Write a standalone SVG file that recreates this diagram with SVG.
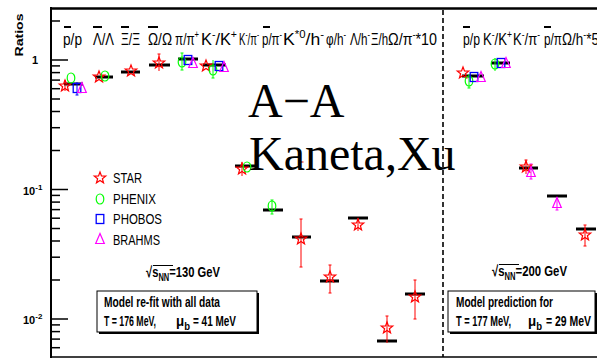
<svg xmlns="http://www.w3.org/2000/svg" width="597" height="358" viewBox="0 0 597 358">
<style>
.lab{font-family:"Liberation Sans",Arial,sans-serif;font-size:17px;fill:#000}
.sup{font-size:11px}
.ax{font-family:"Liberation Sans",Arial,sans-serif;font-size:11px;font-weight:bold;fill:#000}
.axs{font-size:8px}
.leg{font-family:"Liberation Sans",Arial,sans-serif;font-size:15px;fill:#000}
.bt{font-family:"Liberation Sans",Arial,sans-serif;font-size:14px;font-weight:bold;fill:#000}
.bs{font-family:"Liberation Sans",Arial,sans-serif;font-size:15px;font-weight:bold;fill:#000}
.sub{font-size:10px}
.big{font-family:"Liberation Serif","Times New Roman",serif;font-size:48px;fill:#000}
.bar{stroke:#000;stroke-width:3}
.tick{stroke:#000;stroke-width:1.5}
.er{stroke:#f00;stroke-width:1;fill:none}
.eg{stroke:#0f0;stroke-width:1;fill:none}
.eb{stroke:#00f;stroke-width:1;fill:none}
.em{stroke:#f0f;stroke-width:1;fill:none}
.ol{stroke:#000;stroke-width:2}
</style>
<defs>
<path id="star" d="M0,-6 L1.47,-2.02 L5.71,-1.85 L2.38,0.77 L3.53,4.85 L0,2.5 L-3.53,4.85 L-2.38,0.77 L-5.71,-1.85 L-1.47,-2.02 Z" fill="none" stroke="#f00" stroke-width="1.2"/>
<ellipse id="circ" rx="3.8" ry="5" fill="none" stroke="#0f0" stroke-width="1.2"/>
<rect id="sq" x="-3.8" y="-4.5" width="7.6" height="9" fill="none" stroke="#00f" stroke-width="1.3"/>
<path id="tri" d="M0,-5.5 L4.3,4.5 L-4.3,4.5 Z" fill="none" stroke="#f0f" stroke-width="1.2"/>
</defs>
<rect width="597" height="358" fill="#fff"/>

<g id="frame">
<line x1="51" y1="7" x2="51" y2="358" stroke="#000" stroke-width="2"/>
<line x1="50" y1="8.5" x2="597" y2="8.5" stroke="#000" stroke-width="2.5"/>
<line x1="50" y1="357" x2="597" y2="357" stroke="#000" stroke-width="1.5"/>
<line x1="443" y1="10" x2="443" y2="357" stroke="#000" stroke-width="1.6" stroke-dasharray="5 3"/>
<g class="tick">
<line x1="51" y1="60" x2="68" y2="60"/><line x1="51" y1="189.5" x2="68" y2="189.5"/><line x1="51" y1="319" x2="68" y2="319"/>
<line x1="51" y1="21" x2="60" y2="21"/>
<line x1="51" y1="150.5" x2="60" y2="150.5"/><line x1="51" y1="127.7" x2="60" y2="127.7"/><line x1="51" y1="111.5" x2="60" y2="111.5"/><line x1="51" y1="99" x2="60" y2="99"/><line x1="51" y1="88.7" x2="60" y2="88.7"/><line x1="51" y1="80.1" x2="60" y2="80.1"/><line x1="51" y1="72.6" x2="60" y2="72.6"/><line x1="51" y1="65.9" x2="60" y2="65.9"/>
<line x1="51" y1="280" x2="60" y2="280"/><line x1="51" y1="257.2" x2="60" y2="257.2"/><line x1="51" y1="241" x2="60" y2="241"/><line x1="51" y1="228.5" x2="60" y2="228.5"/><line x1="51" y1="218.2" x2="60" y2="218.2"/><line x1="51" y1="209.6" x2="60" y2="209.6"/><line x1="51" y1="202.1" x2="60" y2="202.1"/><line x1="51" y1="195.4" x2="60" y2="195.4"/>
<line x1="51" y1="324.9" x2="60" y2="324.9"/><line x1="51" y1="331.6" x2="60" y2="331.6"/><line x1="51" y1="339.1" x2="60" y2="339.1"/><line x1="51" y1="347.7" x2="60" y2="347.7"/>
</g>
<text class="ax" x="38" y="64" text-anchor="end">1</text>
<text class="ax" x="23" y="195">10<tspan class="axs" dy="-5">-1</tspan></text>
<text class="ax" x="23" y="324">10<tspan class="axs" dy="-5">-2</tspan></text>
<text class="ax" transform="translate(23,35) rotate(-90)" text-anchor="middle" textLength="43" lengthAdjust="spacingAndGlyphs">Ratios</text>
</g>

<g id="labels">
<text class="lab" x="63" y="45" textLength="19" lengthAdjust="spacingAndGlyphs">p/p</text>
<text class="lab" x="93" y="45" textLength="21" lengthAdjust="spacingAndGlyphs">Λ/Λ</text>
<text class="lab" x="121" y="45" textLength="19" lengthAdjust="spacingAndGlyphs">Ξ/Ξ</text>
<text class="lab" x="148" y="45" textLength="24" lengthAdjust="spacingAndGlyphs">Ω/Ω</text>
<text class="lab" x="175" y="45" textLength="24" lengthAdjust="spacingAndGlyphs">π/π<tspan class="sup" dy="-7">+</tspan></text>
<text class="lab" x="201" y="45" textLength="36" lengthAdjust="spacingAndGlyphs">K<tspan class="sup" dy="-7">-</tspan><tspan dy="7">/K</tspan><tspan class="sup" dy="-7">+</tspan></text>
<text class="lab" x="239" y="45" textLength="20" lengthAdjust="spacingAndGlyphs">K<tspan class="sup" dy="-7">-</tspan><tspan dy="7">/π</tspan><tspan class="sup" dy="-7">-</tspan></text>
<text class="lab" x="262" y="45" textLength="20" lengthAdjust="spacingAndGlyphs">p/π<tspan class="sup" dy="-7">-</tspan></text>
<text class="lab" x="283" y="45" textLength="41" lengthAdjust="spacingAndGlyphs">K<tspan class="sup" dy="-7">*0</tspan><tspan dy="7">/h</tspan><tspan class="sup" dy="-7">-</tspan></text>
<text class="lab" x="326" y="45" textLength="20" lengthAdjust="spacingAndGlyphs">φ/h<tspan class="sup" dy="-7">-</tspan></text>
<text class="lab" x="350" y="45" textLength="20" lengthAdjust="spacingAndGlyphs">Λ/h<tspan class="sup" dy="-7">-</tspan></text>
<text class="lab" x="371" y="45" textLength="17" lengthAdjust="spacingAndGlyphs">Ξ/h</text>
<text class="lab" x="388" y="45" textLength="49" lengthAdjust="spacingAndGlyphs">Ω/π<tspan class="sup" dy="-7">-</tspan><tspan dy="7">*10</tspan></text>
<text class="lab" x="463" y="45" textLength="17" lengthAdjust="spacingAndGlyphs">p/p</text>
<text class="lab" x="483" y="45" textLength="29" lengthAdjust="spacingAndGlyphs">K<tspan class="sup" dy="-7">-</tspan><tspan dy="7">/K</tspan><tspan class="sup" dy="-7">+</tspan></text>
<text class="lab" x="513" y="45" textLength="27" lengthAdjust="spacingAndGlyphs">K<tspan class="sup" dy="-7">-</tspan><tspan dy="7">/π</tspan><tspan class="sup" dy="-7">-</tspan></text>
<text class="lab" x="544" y="45" textLength="18" lengthAdjust="spacingAndGlyphs">p/π</text>
<text class="lab" x="562" y="45" textLength="37" lengthAdjust="spacingAndGlyphs">Ω/h<tspan class="sup" dy="-7">-</tspan><tspan dy="7">*5</tspan></text>
<g class="ol">
<line x1="64" y1="27" x2="71" y2="27"/><line x1="93" y1="27" x2="102" y2="27"/><line x1="121" y1="27" x2="129" y2="27"/><line x1="148" y1="27" x2="158" y2="27"/><line x1="263" y1="27" x2="270" y2="27"/><line x1="463" y1="27" x2="470" y2="27"/><line x1="544" y1="27" x2="551" y2="27"/>
</g>
</g>

<g id="model">
<line class="bar" x1="64" y1="84" x2="83" y2="84"/>
<line class="bar" x1="95" y1="77" x2="113" y2="77"/>
<line class="bar" x1="121" y1="72" x2="140" y2="72"/>
<line class="bar" x1="149" y1="65" x2="170" y2="65"/>
<line class="bar" x1="178" y1="59" x2="198" y2="59"/>
<line class="bar" x1="203" y1="65" x2="226" y2="65"/>
<line class="bar" x1="235" y1="166" x2="255" y2="166"/>
<line class="bar" x1="263" y1="210" x2="283" y2="210"/>
<line class="bar" x1="292" y1="237" x2="311" y2="237"/>
<line class="bar" x1="320" y1="281" x2="339" y2="281"/>
<line class="bar" x1="348" y1="218" x2="368" y2="218"/>
<line class="bar" x1="377" y1="341" x2="397" y2="341"/>
<line class="bar" x1="405" y1="294" x2="425" y2="294"/>
<line class="bar" x1="462" y1="76" x2="484" y2="76"/>
<line class="bar" x1="491" y1="63" x2="510" y2="63"/>
<line class="bar" x1="519" y1="168" x2="538" y2="168"/>
<line class="bar" x1="547" y1="196" x2="567" y2="196"/>
<line class="bar" x1="576" y1="229" x2="596" y2="229"/>
</g>

<g id="errors">
<path class="er" d="M65,80V91M159,54V71M157.5,54H160.5M242,162V176M300.5,162H303.5M301,219V267M299.5,219H302.5M299.5,267H302.5M330,265V293M328.5,265H331.5M328.5,293H331.5M358,218V231M387,316V343M385.5,316H388.5M415,280V319M413.5,280H416.5M413.5,319H416.5M526,160V174M524.5,160H527.5M585,225V246M583.5,225H586.5M583.5,246H586.5"/>
<path class="eg" d="M182,53V70M180.5,53H183.5M180.5,70H183.5M213,60V78M211.5,78H214.5M272,200V214M270.5,200H273.5M270.5,214H273.5M469,74V88M467.5,88H470.5M495,58V71"/>
<path class="eb" d="M77,82V95M75.5,95H78.5"/>
<path class="em" d="M531,164V179M529.5,164H532.5M529.5,179H532.5M557,197V210M555.5,210H558.5"/>
</g>

<g id="star-data">
<use href="#star" x="65" y="86"/><use href="#star" x="99" y="77"/><use href="#star" x="131" y="71"/><use href="#star" x="159" y="63"/><use href="#star" x="206" y="66"/><use href="#star" x="242" y="169"/><use href="#star" x="301" y="239"/><use href="#star" x="330" y="277"/><use href="#star" x="358" y="225"/><use href="#star" x="387" y="328"/><use href="#star" x="415" y="297"/><use href="#star" x="463" y="73"/><use href="#star" x="526" y="167"/><use href="#star" x="585" y="235"/>
</g>
<g id="phenix-data">
<use href="#circ" x="71" y="78"/><use href="#circ" x="105" y="76"/><use href="#circ" x="182" y="62"/><use href="#circ" x="213" y="70"/><use href="#circ" x="247" y="167"/><use href="#circ" x="272" y="206"/><use href="#circ" x="469" y="81"/><use href="#circ" x="495" y="64"/>
</g>
<g id="phobos-data">
<use href="#sq" x="77" y="88"/><use href="#sq" x="188" y="60"/><use href="#sq" x="219" y="66"/><use href="#sq" x="474" y="77"/><use href="#sq" x="501" y="63"/>
</g>
<g id="brahms-data">
<use href="#tri" x="82" y="88"/><use href="#tri" x="193" y="63"/><use href="#tri" x="224" y="67"/><use href="#tri" x="481" y="77"/><use href="#tri" x="506" y="63"/><use href="#tri" x="531" y="172"/><use href="#tri" x="557" y="203"/>
</g>

<g id="legend">
<use href="#star" x="100" y="178"/>
<use href="#circ" x="100" y="199"/>
<use href="#sq" x="100" y="219"/>
<use href="#tri" x="100" y="239"/>
<text class="leg" x="113" y="183" textLength="29" lengthAdjust="spacingAndGlyphs">STAR</text>
<text class="leg" x="113" y="204" textLength="43" lengthAdjust="spacingAndGlyphs">PHENIX</text>
<text class="leg" x="113" y="224" textLength="49" lengthAdjust="spacingAndGlyphs">PHOBOS</text>
<text class="leg" x="113" y="245" textLength="47" lengthAdjust="spacingAndGlyphs">BRAHMS</text>
</g>

<g id="title">
<text class="big" x="248" y="117">A−A</text>
<text class="big" x="249" y="170">Kaneta,Xu</text>
</g>

<g id="energy-130">
<text class="bs" x="146" y="277" textLength="74" lengthAdjust="spacingAndGlyphs">√s<tspan class="sub" dy="4">NN</tspan><tspan dy="-4">=130 GeV</tspan></text>
<line x1="153" y1="265.5" x2="173" y2="265.5" stroke="#000" stroke-width="1"/>
</g>
<g id="energy-200">
<text class="bs" x="492" y="276" textLength="75" lengthAdjust="spacingAndGlyphs">√s<tspan class="sub" dy="4">NN</tspan><tspan dy="-4">=200 GeV</tspan></text>
<line x1="499" y1="264.5" x2="519" y2="264.5" stroke="#000" stroke-width="1"/>
</g>

<g id="box-left">
<rect x="99" y="293" width="160" height="41" fill="#000"/>
<rect x="97" y="291" width="160" height="41" fill="#fff" stroke="#000" stroke-width="1"/>
<text class="bt" x="104" y="307" textLength="116" lengthAdjust="spacingAndGlyphs">Model re-fit with all data</text>
<text class="bt" x="104" y="326" textLength="52" lengthAdjust="spacingAndGlyphs">T = 176 MeV,</text>
<text class="bt" x="176" y="326" textLength="14" lengthAdjust="spacingAndGlyphs">μ<tspan class="sub" dy="4">b</tspan></text>
<text class="bt" x="193" y="326" textLength="43" lengthAdjust="spacingAndGlyphs">= 41 MeV</text>
</g>
<g id="box-right">
<rect x="450" y="293" width="148" height="41" fill="#000"/>
<rect x="448" y="291" width="147" height="41" fill="#fff" stroke="#000" stroke-width="1"/>
<text class="bt" x="456" y="307" textLength="97" lengthAdjust="spacingAndGlyphs">Model prediction for</text>
<text class="bt" x="456" y="326" textLength="55" lengthAdjust="spacingAndGlyphs">T = 177 MeV,</text>
<text class="bt" x="528" y="326" textLength="14" lengthAdjust="spacingAndGlyphs">μ<tspan class="sub" dy="4">b</tspan></text>
<text class="bt" x="546" y="326" textLength="45" lengthAdjust="spacingAndGlyphs">= 29 MeV</text>
</g>
</svg>
